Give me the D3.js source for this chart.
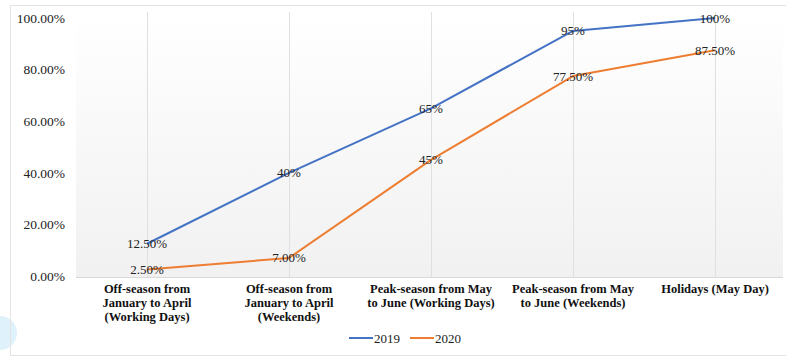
<!DOCTYPE html>
<html>
<head>
<meta charset="utf-8">
<script src="https://cdn.jsdelivr.net/npm/d3@7"></script>
<style>
  body { margin: 0; background: #fff; }
  svg { display: block; }
  text { font-family: "Liberation Serif", "Times New Roman", serif; }
</style>
</head>
<body>
<div id="chart"></div>
<script>
var categories = [
  ["Off-season from", "January to April", "(Working Days)"],
  ["Off-season from", "January to April", "(Weekends)"],
  ["Peak-season from May", "to June (Working Days)"],
  ["Peak-season from May", "to June (Weekends)"],
  ["Holidays (May Day)"]
];
var values2019 = [0.125, 0.40, 0.65, 0.95, 1.00];
var values2020 = [0.025, 0.07, 0.45, 0.775, 0.875];
var labels2019 = ["12.50%", "40%", "65%", "95%", "100%"];
var labels2020 = ["2.50%", "7.00%", "45%", "77.50%", "87.50%"];
var yTicks = [0, 0.2, 0.4, 0.6, 0.8, 1.0];

var width = 786, height = 358;
var svg = d3.select("#chart").append("svg").attr("width", width).attr("height", height);

// background decorations
svg.append("circle").attr("cx", 0).attr("cy", 333).attr("r", 17).attr("fill", "#dff1fb");
svg.append("rect").attr("x", 10.5).attr("y", 5.5).attr("width", 790).attr("height", 350)
  .attr("fill", "none").attr("stroke", "#e3e3e3");

var defs = svg.append("defs");
var grad = defs.append("linearGradient").attr("id", "bg").attr("x1", 0).attr("y1", 0).attr("x2", 0).attr("y2", 1);
grad.append("stop").attr("offset", "0%").attr("stop-color", "#ffffff");
grad.append("stop").attr("offset", "100%").attr("stop-color", "#f1f1f1");

var x = d3.scalePoint().domain(d3.range(categories.length)).range([76, 786]).padding(0.5);
var y = d3.scaleLinear().domain([0, 1]).range([276, 18]);

svg.append("rect").attr("x", 76).attr("y", 12).attr("width", 707).attr("height", 265).attr("fill", "url(#bg)");

// vertical grid lines
svg.append("g").selectAll("line").data(d3.range(categories.length)).enter().append("line")
  .attr("x1", function(d) { return x(d) + 0.5; }).attr("x2", function(d) { return x(d) + 0.5; })
  .attr("y1", 12).attr("y2", 277)
  .attr("stroke", "#e0e0e0").attr("stroke-width", 1);

// x axis line
svg.append("line").attr("x1", 76).attr("x2", 783).attr("y1", 277.5).attr("y2", 277.5)
  .attr("stroke", "#d9d9d9");

// y axis
var yAxis = d3.axisLeft(y).tickValues(yTicks).tickFormat(d3.format(".2%")).tickSize(0).tickPadding(0);
var yg = svg.append("g").attr("transform", "translate(65,0)").call(yAxis);
yg.select(".domain").remove();
yg.attr("font-family", null);
yg.selectAll("text").attr("font-size", "13.5px").attr("fill", "#222");

// x labels, one text per line
var xg = svg.append("g").selectAll("g").data(categories).enter().append("g")
  .attr("transform", function(d, i) { return "translate(" + x(i) + ",0)"; });
xg.selectAll("text").data(function(d) { return d; }).enter().append("text")
  .attr("x", 0)
  .attr("y", function(d, i) { return 292.5 + i * 14; })
  .attr("text-anchor", "middle")
  .attr("font-weight", "bold").attr("font-size", "12.5px").attr("fill", "#111")
  .text(function(d) { return d; });

var line = d3.line().x(function(d, i) { return x(i); }).y(function(d) { return y(d); });

var series = [
  { name: "2019", values: values2019, labels: labels2019, color: "#4472c4" },
  { name: "2020", values: values2020, labels: labels2020, color: "#ed7d31" }
];

series.forEach(function(s) {
  svg.append("path").datum(s.values).attr("d", line)
    .attr("fill", "none").attr("stroke", s.color).attr("stroke-width", 2)
    .attr("stroke-linejoin", "round");
});

series.forEach(function(s) {
  svg.append("g").selectAll("text").data(s.values).enter().append("text")
    .attr("x", function(d, i) { return x(i); })
    .attr("y", function(d) { return y(d) + 4.5; })
    .attr("text-anchor", "middle")
    .attr("font-size", "13px").attr("fill", "#222")
    .text(function(d, i) { return s.labels[i]; });
});

// legend
var legend = svg.append("g").attr("transform", "translate(349,338)");
series.forEach(function(s, i) {
  var g = legend.append("g").attr("transform", "translate(" + (i * 61) + ",0)");
  g.append("line").attr("x1", 0).attr("x2", 24).attr("y1", 0).attr("y2", 0)
    .attr("stroke", s.color).attr("stroke-width", 2);
  g.append("text").attr("x", 25).attr("y", 4.5)
    .attr("font-size", "13px").attr("fill", "#222").text(s.name);
});
</script>
</body>
</html>
